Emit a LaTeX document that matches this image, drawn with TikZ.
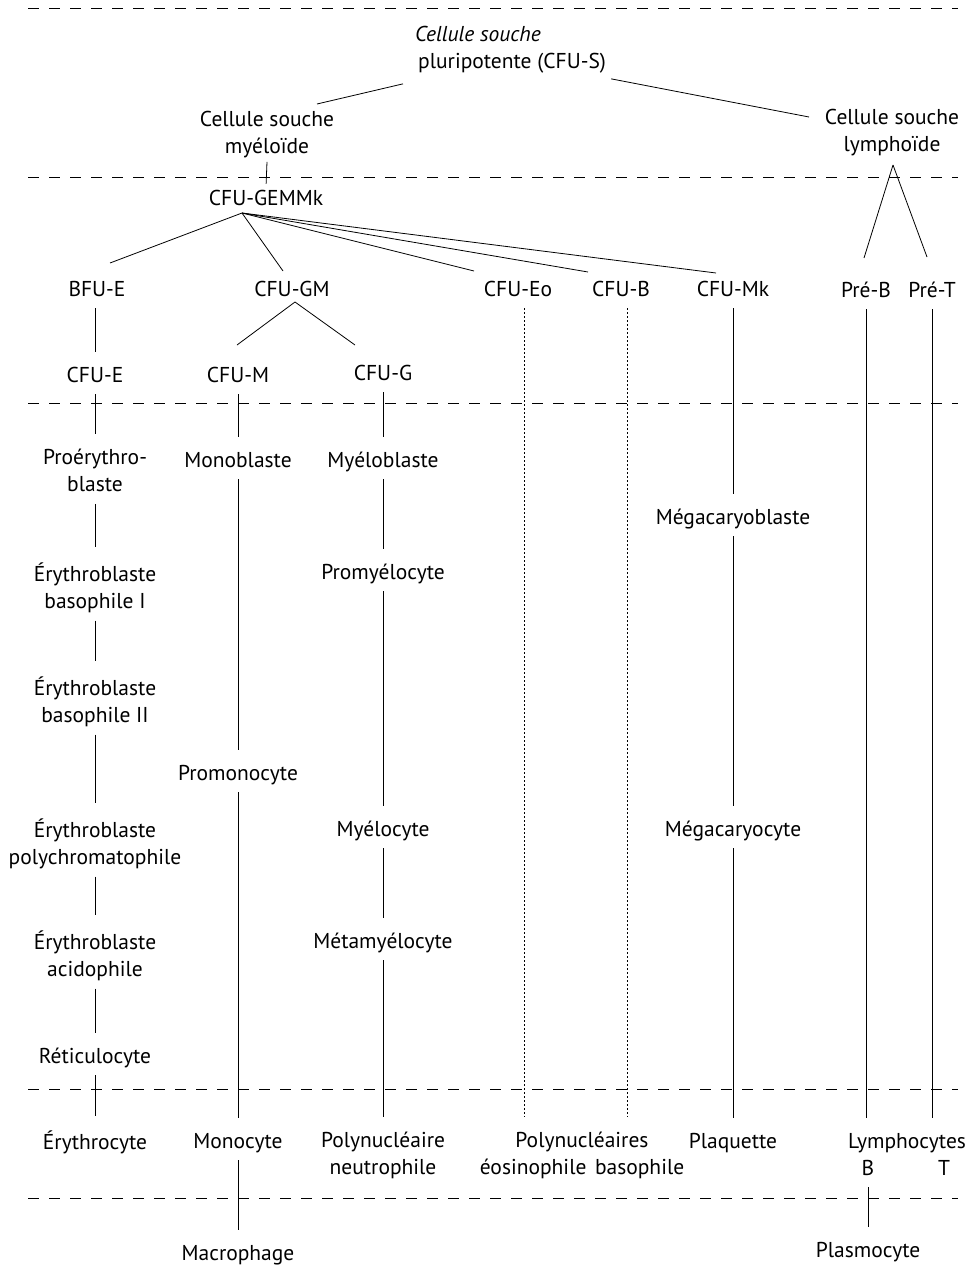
\documentclass[tikz,border=0pt]{standalone}
\usepackage{fontspec}
\setmainfont{PT Sans}
\usepackage{tikz}

\begin{document}
\begin{tikzpicture}[x=1pt, y=-1pt,
  cell/.style={align=center, inner sep=3pt, text depth=5pt, font=\fontsize{21.5}{27}\selectfont},
  fork/.style={line width=0.8pt},
  link/.style={line width=0.8pt, shorten <=4pt, shorten >=12pt},
  faint/.style={line width=0.7pt, dash pattern=on 2pt off 2pt, shorten <=4pt, shorten >=12pt},
  stage/.style={line width=0.75pt, dash pattern=on 11pt off 10pt}]
  \useasboundingbox (0,0) rectangle (976,1282);

  % Stage separators
  \foreach \y in {8,177,403,1089,1198}
    \draw[stage] (28,\y) -- (958,\y);

  % Nodes
  \node[cell, align=left, anchor=west] (cfus) at (412,50) {\textit{Cellule souche}\\\hspace{3pt}pluripotente (CFU-S)};
  \node[cell] (myeloid) at (267,135) {Cellule souche\\myéloïde};
  \node[cell] (lymphoid) at (892,133) {Cellule souche\\lymphoïde};
  \node[cell] (gemmk) at (266,200) {CFU-GEMMk};

  \node[cell] (bfue) at (97,291) {BFU-E};
  \node[cell] (cfugm) at (292,291) {CFU-GM};
  \node[cell] (cfueo) at (518,291) {CFU-Eo};
  \node[cell] (cfub) at (621,291) {CFU-B};
  \node[cell] (cfumk) at (733,291) {CFU-Mk};
  \node[cell] (preb) at (866,292) {Pré-B};
  \node[cell] (pret) at (932,292) {Pré-T};

  \node[cell] (cfue) at (95,377) {CFU-E};
  \node[cell] (cfum) at (238,377) {CFU-M};
  \node[cell] (cfug) at (383,375) {CFU-G};

  \node[cell] (proery) at (95,473) {Proérythro-\\blaste};
  \node[cell] (erybasa) at (95,588) {Érythroblaste\\basophile I};
  \node[cell] (erybasb) at (95,702) {Érythroblaste\\basophile II};
  \node[cell] (erypoly) at (95,844) {Érythroblaste\\polychromatophile};
  \node[cell] (eryacid) at (95,956) {Érythroblaste\\acidophile};
  \node[cell] (reticulo) at (95,1058) {Réticulocyte};
  \node[cell] (erythro) at (95,1143) {Érythrocyte};

  \node[cell] (monoblast) at (238,462) {Monoblaste};
  \node[cell] (promono) at (238,775) {Promonocyte};
  \node[cell] (mono) at (238,1143) {Monocyte};
  \node[cell] (macro) at (238,1255) {Macrophage};

  \node[cell] (myeloblast) at (383,462) {Myéloblaste};
  \node[cell] (promyelo) at (383,574) {Promyélocyte};
  \node[cell] (myelo) at (383,831) {Myélocyte};
  \node[cell] (metamyelo) at (383,943) {Métamyélocyte};
  \node[cell] (neutro) at (383,1156) {Polynucléaire\\neutrophile};

  \node[cell] (polyeb) at (582,1156) {Polynucléaires\\éosinophile\hspace{0.4em}basophile};

  \node[cell] (megablast) at (733,519) {Mégacaryoblaste};
  \node[cell] (megacyte) at (733,831) {Mégacaryocyte};
  \node[cell] (plaquette) at (733,1143) {Plaquette};

  \node[cell] (lympho) at (907,1143) {Lymphocytes};
  \node[cell] (lymb) at (868,1170) {B};
  \node[cell] (lymt) at (944,1170) {T};
  \node[cell] (plasmo) at (868,1252) {Plasmocyte};

  % Edges
  \draw[fork] ([shift={(-9,7)}]cfus.south west) -- ([shift={(50,-31)}]myeloid.center);
  \draw[fork] ([shift={(2,2)}]cfus.south east) -- ([shift={(-83,-16)}]lymphoid.center);
  \draw[fork, shorten >=3pt] (myeloid.south) -- (gemmk.north);

  \coordinate (fan) at ([shift={(-24,13)}]gemmk.center);
  \foreach \t/\dx/\dy in {bfue/13/-28, cfugm/-9/-20, cfueo/-44/-20, cfub/-33/-19, cfumk/-17/-18}
    \draw[fork] (fan) -- ([shift={(\dx,\dy)}]\t.center);

  \draw[fork] ([shift={(3,11)}]cfugm.center) -- ([shift={(-1,-32)}]cfum.center);
  \draw[fork] ([shift={(3,11)}]cfugm.center) -- ([shift={(-28,-30)}]cfug.center);

  \draw[fork] ([shift={(1,32)}]lymphoid.center) -- ([shift={(-2,-34)}]preb.center);
  \draw[fork] ([shift={(1,32)}]lymphoid.center) -- ([shift={(-5,-35)}]pret.center);

  \draw[link] (cfue |- bfue.south) -- (cfue.north);
  \foreach \a/\b in {cfue/proery, proery/erybasa, erybasa/erybasb, erybasb/erypoly,
      erypoly/eryacid, eryacid/reticulo, reticulo/erythro,
      cfum/monoblast, monoblast/promono, promono/mono, mono/macro,
      cfug/myeloblast, myeloblast/promyelo, promyelo/myelo, myelo/metamyelo, metamyelo/neutro,
      cfumk/megablast, megablast/megacyte, megacyte/plaquette, lymb/plasmo}
    \draw[link] (\a.south) -- (\b.north);

  \draw[faint] ([xshift=6]cfueo.south) -- ([xshift=6]cfueo.south |- polyeb.north);
  \draw[faint] ([xshift=6]cfub.south) -- ([xshift=6]cfub.south |- polyeb.north);
  \draw[link] (preb.south) -- (preb.south |- lympho.north);
  \draw[link] (pret.south) -- (pret.south |- lympho.north);
\end{tikzpicture}
\end{document}
